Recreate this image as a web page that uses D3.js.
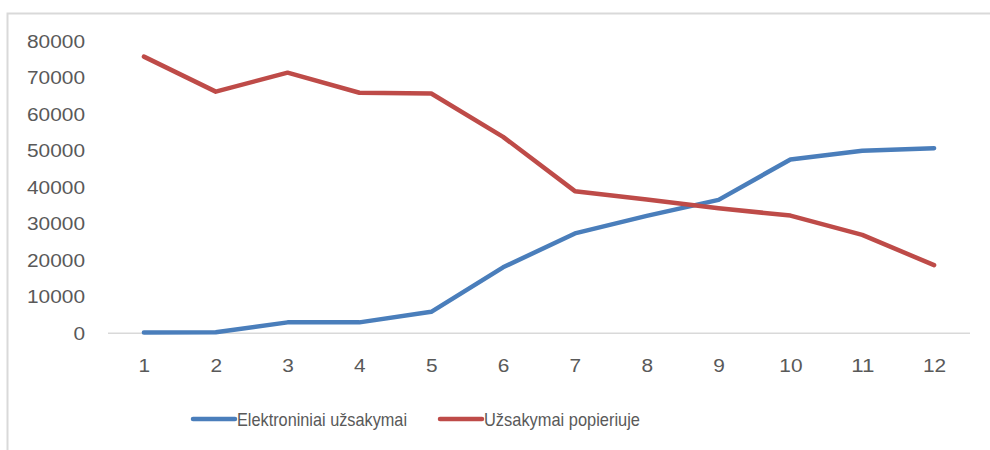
<!DOCTYPE html>
<html>
<head>
<meta charset="utf-8">
<script src="https://cdn.jsdelivr.net/npm/d3@7"></script>
<style>
  html, body { margin: 0; padding: 0; background: #fff; }
  svg { display: block; }
  text { font-family: "Liberation Sans", "DejaVu Sans", sans-serif; fill: #595959; }
</style>
</head>
<body>
<svg id="chart" width="990" height="450"></svg>
<script>
const categories = ["1","2","3","4","5","6","7","8","9","10","11","12"];
const seriesNames = ["Elektroniniai užsakymai", "Užsakymai popieriuje"];
const electronic = [200, 300, 3000, 3000, 5900, 18100, 27400, 32200, 36600, 47700, 50100, 50800];
const paper = [75900, 66300, 71500, 66000, 65800, 53900, 39000, 36700, 34300, 32300, 27000, 18700];
const yTicks = [0, 10000, 20000, 30000, 40000, 50000, 60000, 70000, 80000];
const colors = ["#4a7ebb", "#be4b48"];

const svg = d3.select("#chart");
const digitW = 11.6;

// outer frame
svg.append("rect")
  .attr("x", 7.5).attr("y", 13.5)
  .attr("width", 1000).attr("height", 500)
  .attr("fill", "none").attr("stroke", "#d9d9d9").attr("stroke-width", 2);

const plotLeft = 108, plotRight = 970, plotTop = 41.7, plotBottom = 333.3;

const x = d3.scalePoint().domain(categories).range([plotLeft, plotRight]).padding(0.5);
const y = d3.scaleLinear().domain([0, 80000]).range([plotBottom, plotTop]);

// y axis labels
const yAxis = d3.axisLeft(y).tickValues(yTicks).tickSize(0).tickPadding(0).tickFormat(d3.format("d"));
const gy = svg.append("g").attr("transform", "translate(85,0)").call(yAxis);
gy.select(".domain").remove();
gy.selectAll("text")
  .style("font-size", "18px")
  .attr("fill", "#595959")
  .attr("textLength", d => String(d).length * digitW)
  .attr("lengthAdjust", "spacingAndGlyphs");

// x axis
const xAxis = d3.axisBottom(x).tickSize(0).tickPadding(0);
const gx = svg.append("g").attr("transform", `translate(0,${plotBottom})`).call(xAxis);
gx.select(".domain").attr("stroke", "#d9d9d9").attr("stroke-width", 1.5)
  .attr("d", `M${plotLeft},0H${plotRight}`);
gx.selectAll("text")
  .style("font-size", "18px")
  .attr("fill", "#595959")
  .attr("dy", "0.35em")
  .attr("y", 32)
  .attr("textLength", d => String(d).length * digitW)
  .attr("lengthAdjust", "spacingAndGlyphs");

// lines
const line = d3.line()
  .x((d, i) => x(categories[i]))
  .y(d => y(d));

[electronic, paper].forEach((s, k) => {
  svg.append("path")
    .datum(s)
    .attr("d", line)
    .attr("fill", "none")
    .attr("stroke", colors[k])
    .attr("stroke-width", 4.5)
    .attr("stroke-linejoin", "round")
    .attr("stroke-linecap", "round");
});

// legend
const legendItems = [
  { name: seriesNames[0], color: colors[0], x0: 193, w: 170 },
  { name: seriesNames[1], color: colors[1], x0: 440, w: 156 }
];
const ly = 419;
legendItems.forEach(it => {
  svg.append("line")
    .attr("x1", it.x0).attr("x2", it.x0 + 42)
    .attr("y1", ly).attr("y2", ly)
    .attr("stroke", it.color).attr("stroke-width", 4.5)
    .attr("stroke-linecap", "round");
  svg.append("text")
    .attr("x", it.x0 + 44).attr("y", ly)
    .attr("dy", "0.35em")
    .style("font-size", "19px")
    .attr("textLength", it.w)
    .attr("lengthAdjust", "spacingAndGlyphs")
    .text(it.name);
});
</script>
</body>
</html>
